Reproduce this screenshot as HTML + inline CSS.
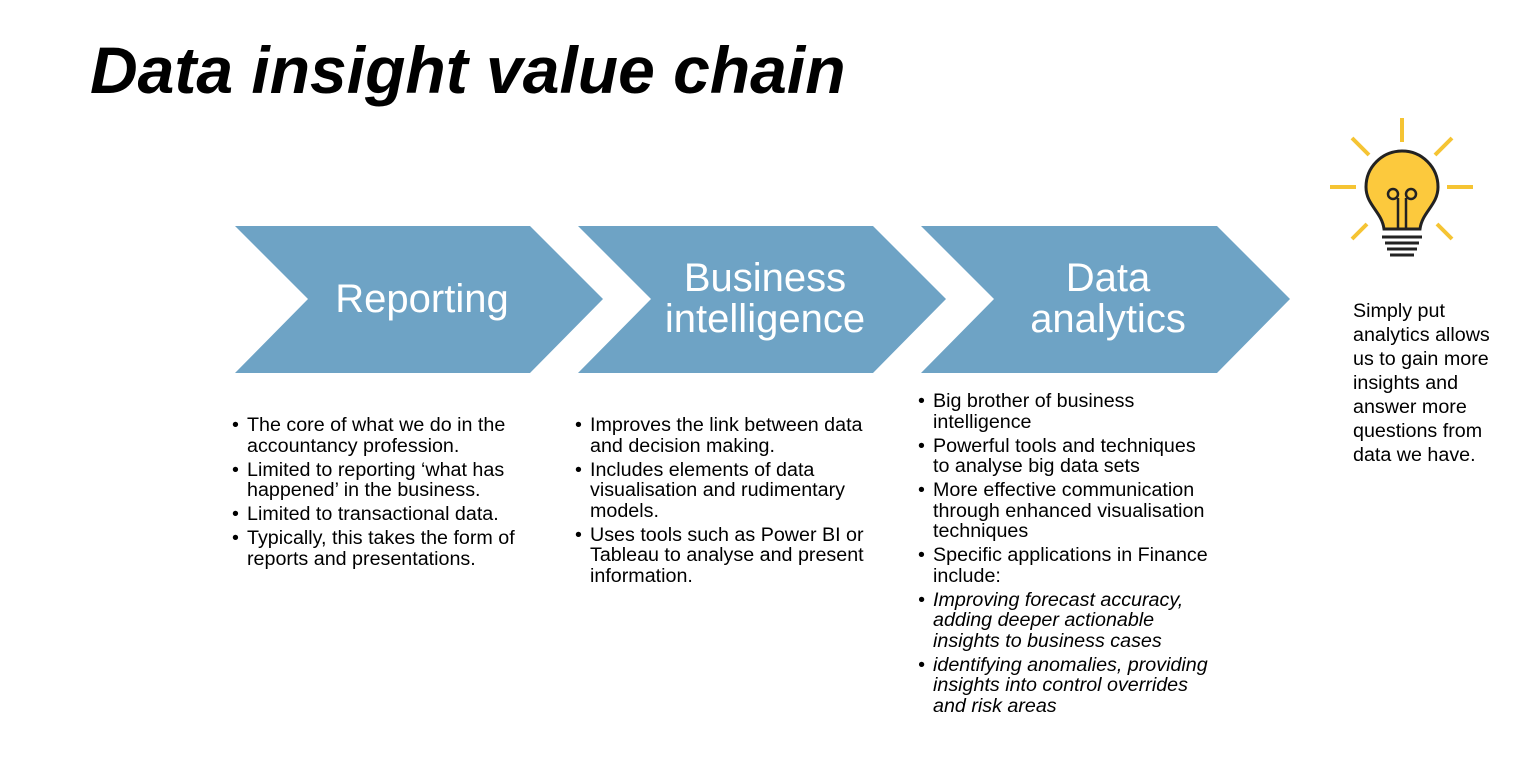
<!DOCTYPE html>
<html><head><style>
body{margin:0;width:1538px;height:774px;background:#fff;position:relative;overflow:hidden;font-family:"Liberation Sans",Arial,sans-serif;color:#000}
h1{position:absolute;left:90px;top:32px;margin:0;font-size:66px;font-weight:bold;font-style:italic;line-height:76px}
ul{position:absolute;margin:0;padding:0;list-style:none;font-size:19.7px;line-height:20.5px}
li{position:relative;padding-left:15px;margin-bottom:3.5px}
li:before{content:"•";position:absolute;left:0}
.it{font-style:italic}
.side{position:absolute;left:1353px;top:299px;font-size:19.7px;line-height:24px;white-space:nowrap}
</style></head><body>
<h1>Data insight value chain</h1>
<svg width="1538" height="774" style="position:absolute;left:0;top:0">
<g fill="#6ea3c5">
<polygon points="235,226 530,226 603,299 530,373 235,373 308,299"/>
<polygon points="578,226 873,226 946,299 873,373 578,373 651,299"/>
<polygon points="921,226 1217,226 1290,299 1217,373 921,373 994,299"/>
</g>
<g fill="#fff" font-family="Liberation Sans,Arial,sans-serif" font-size="40" text-anchor="middle">
<text x="422" y="312">Reporting</text>
<text x="765" y="291">Business</text>
<text x="765" y="332">intelligence</text>
<text x="1108" y="291">Data</text>
<text x="1108" y="332">analytics</text>
</g>
<g stroke="#f5c433" stroke-width="4" stroke-linecap="butt">
<line x1="1402" y1="118" x2="1402" y2="142"/>
<line x1="1330" y1="187" x2="1356" y2="187"/>
<line x1="1447" y1="187" x2="1473" y2="187"/>
<line x1="1352" y1="138" x2="1369" y2="155"/>
<line x1="1452" y1="138" x2="1435" y2="155"/>
<line x1="1352" y1="239" x2="1367" y2="224"/>
<line x1="1452" y1="239" x2="1437" y2="224"/>
</g>
<path d="M1384,229 C1382,212 1366,205 1366,187 A36,36 0 1 1 1438,187 C1438,205 1422,212 1420,229 Z" fill="#fcc93d" stroke="#222" stroke-width="3"/>
<g stroke="#222" stroke-width="2.5" fill="none">
<circle cx="1393" cy="194" r="5"/><circle cx="1411" cy="194" r="5"/>
<line x1="1398" y1="198" x2="1398" y2="229"/><line x1="1406" y1="198" x2="1406" y2="229"/>
</g>
<g stroke="#222" stroke-width="3">
<line x1="1382" y1="237" x2="1422" y2="237"/>
<line x1="1385" y1="243" x2="1419" y2="243"/>
<line x1="1387" y1="249" x2="1417" y2="249"/>
<line x1="1390" y1="255" x2="1414" y2="255"/>
</g>
</svg>
<ul style="left:232px;top:415px;width:292px">
<li>The core of what we do in the accountancy profession.</li>
<li>Limited to reporting ‘what has happened’ in the business.</li>
<li>Limited to transactional data.</li>
<li>Typically, this takes the form of reports and presentations.</li>
</ul>
<ul style="left:575px;top:415px;width:298px">
<li>Improves the link between data and decision making.</li>
<li>Includes elements of data visualisation and rudimentary models.</li>
<li>Uses tools such as Power BI or Tableau to analyse and present information.</li>
</ul>
<ul style="left:918px;top:391px;width:294px">
<li>Big brother of business intelligence</li>
<li>Powerful tools and techniques to analyse big data sets</li>
<li>More effective communication through enhanced visualisation techniques</li>
<li>Specific applications in Finance include:</li>
<li class="it">Improving forecast accuracy, adding deeper actionable insights to business cases</li>
<li class="it">identifying anomalies, providing insights into control overrides and risk areas</li>
</ul>
<div class="side">Simply put<br>analytics allows<br>us to gain more<br>insights and<br>answer more<br>questions from<br>data we have.</div>
</body></html>
